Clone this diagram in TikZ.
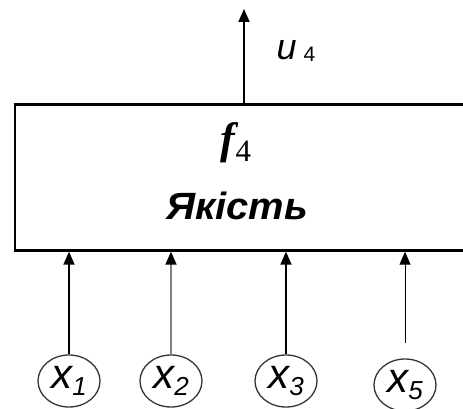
\documentclass[tikz,border=0pt]{standalone}
\usepackage{fontspec}
\setmainfont{Liberation Sans}
\newfontfamily\mathlike{Liberation Serif}
\usetikzlibrary{arrows.meta,positioning,shapes.geometric}
\newcommand{\xin}[1]{{\itshape x}\raisebox{-7pt}{\fontsize{26}{26}\selectfont\itshape #1}}

\begin{document}
\begin{tikzpicture}[x=1pt, y=-1pt,
  block/.style={draw, line width=2.4pt, minimum width=462pt, minimum height=146pt, inner sep=0pt},
  input/.style={draw=black!80, ellipse, line width=1.3pt, minimum width=62pt, minimum height=52pt, inner sep=0pt, font=\fontsize{42}{42}\selectfont},
  arrow/.style={-{Triangle[length=13pt,width=11pt]}, line width=1.8pt}
]
\useasboundingbox (0,0) rectangle (463,409);
\node[block] (blk) at (246,177.5) {};
\node[inner sep=0pt] (fn) at (236,143) {\mathlike\fontsize{44}{46}\selectfont{\bfseries\itshape f}\raisebox{-8pt}{\fontsize{31}{31}\selectfont 4}};
\node[xscale=1.05] (name) at (237,206) {\fontsize{38}{40}\selectfont\bfseries\itshape Якість};
\coordinate (out) at (244,9);
\node (u) at (296,51) {\fontsize{36}{36}\selectfont\itshape u\hspace{7pt}\raisebox{-2pt}{\fontsize{21}{21}\selectfont\upshape 4}};
\node[input] (x1) at (69,381) {\xin{1}};
\node[input] (x2) at (171,381) {\xin{2}};
\node[input] (x3) at (286,381) {\xin{3}};
\node[input] (x5) at (405,385) {\xin{5}};
\draw[arrow] (out |- blk.north) -- (out);
\draw[arrow] (x1) -- (x1 |- blk.south);
\draw[arrow, draw=black!50, -{Triangle[length=13pt,width=11pt,color=black]}] (x2) -- (x2 |- blk.south);
\draw[arrow] (x3) -- (x3 |- blk.south);
\draw[arrow, line width=1pt] ([yshift=15pt]x5.north) -- (x5 |- blk.south);
\end{tikzpicture}
\end{document}
